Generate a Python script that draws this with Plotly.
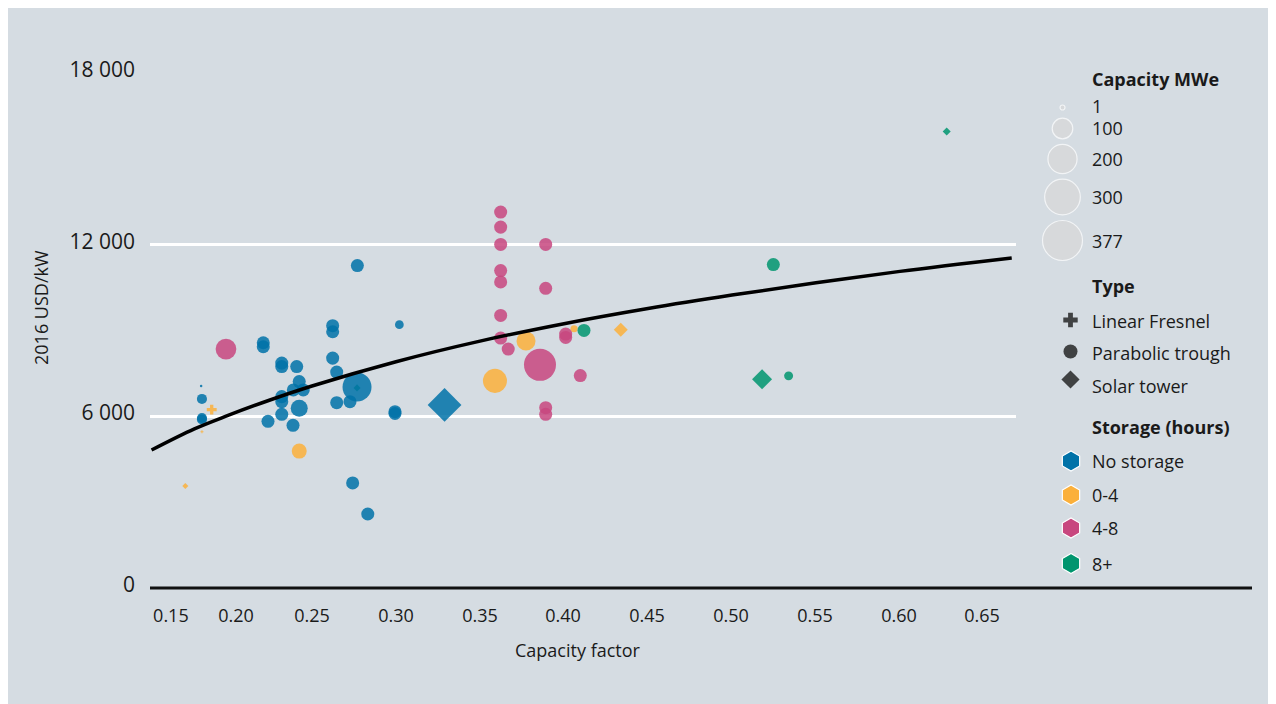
import math
import plotly.graph_objects as go

# ---------------- data ----------------
# types: F = Linear Fresnel, T = Parabolic trough, S = Solar tower
nostor_cf = [0.184, 0.1845, 0.1845, 0.1845, 0.221, 0.221, 0.232, 0.232, 0.2409, 0.2424, 0.2389, 0.2448,
             0.232, 0.232, 0.2424, 0.2238, 0.232, 0.2387, 0.2623, 0.2623, 0.2623, 0.2647, 0.2647, 0.2726,
             0.2768, 0.277, 0.2994, 0.2994, 0.302, 0.2742, 0.2832, 0.3289]
nostor_cost = [7053, 6597, 5930, 5880, 8562, 8422, 7850, 7730, 7730, 7204, 6913, 6913,
               6678, 6502, 6271, 5814, 6060, 5674, 9159, 8948, 8025, 7537, 6467, 6502,
               7018, 11264, 6151, 6088, 9194, 3660, 2572, 6386]
nostor_cap = [1, 24, 24, 24, 40, 40, 40, 40, 40, 40, 40, 40,
              40, 40, 68, 40, 40, 40, 40, 40, 40, 40, 40, 40,
              198, 40, 40, 40, 18, 40, 40, 159]
nostor_type = ["T"] * 31 + ["S"]

s04_cf = [0.1903, 0.1845, 0.1746, 0.2424, 0.3589, 0.3774, 0.406, 0.4338]
s04_cost = [6222, 5450, 3555, 4772, 7229, 8622, 9053, 9018]
s04_cap = [16, 1, 5, 53, 136, 85, 12, 27]
s04_type = ["F", "F", "S", "T", "T", "T", "T", "S"]

s48_cf = [0.1988, 0.3623, 0.3623, 0.3623, 0.3891, 0.3623, 0.3623, 0.3891, 0.3623, 0.3623, 0.3668,
          0.3857, 0.401, 0.401, 0.4097, 0.3891, 0.3891]
s48_cost = [8341, 13134, 12608, 12001, 12001, 11088, 10692, 10467, 9520, 8727, 8341,
            7790, 8867, 8748, 7415, 6292, 6060]
s48_cap = [101, 40, 40, 40, 40, 40, 40, 40, 40, 40, 40,
           241, 40, 40, 40, 40, 40]
s48_type = ["T"] * 17

s8_cf = [0.2768, 0.4119, 0.5246, 0.5179, 0.5337, 0.6278]
s8_cost = [6983, 8994, 11299, 7288, 7404, 15955]
s8_cap = [7, 40, 40, 56, 19, 9]
s8_type = ["S", "T", "T", "S", "T", "S"]

# trend line
trend_cf = [0.1545, 0.18, 0.20, 0.225, 0.25, 0.30, 0.35, 0.40, 0.45, 0.50, 0.55, 0.60, 0.6665]
trend_cost = [4810, 5550, 6020, 6560, 7050, 7900, 8620, 9230, 9760, 10230, 10660, 11060, 11530]

x_ticks = ["0.15", "0.20", "0.25", "0.30", "0.35", "0.40", "0.45", "0.50", "0.55", "0.60", "0.65"]
y_tick_vals = [0, 6000, 12000, 18000]
y_tick_text = ["0", "6 000", "12 000", "18 000"]

size_legend_caps = [1, 100, 200, 300, 377]
type_names = ["Linear Fresnel", "Parabolic trough", "Solar tower"]
storage_names = ["No storage", "0-4", "4-8", "8+"]

# ---------------- style ----------------
BG = "#D5DCE2"
W, H = 1260, 696
FONT = "Open Sans"
TXT = "#1a1a1a"
COLORS = {"No storage": "#0072A8", "0-4": "#FBB03B", "4-8": "#C8477F", "8+": "#00956E"}
SYM = {"F": "cross", "T": "circle", "S": "diamond"}


def sizes(caps, smin=2.5):
    return [max(smin, 2.06 * math.sqrt(c)) for c in caps]


fig = go.Figure()

series = [
    ("0-4", s04_cf, s04_cost, s04_cap, s04_type),
    ("4-8", s48_cf, s48_cost, s48_cap, s48_type),
    ("8+", s8_cf, s8_cost, s8_cap, s8_type),
    ("No storage", nostor_cf, nostor_cost, nostor_cap, nostor_type),
]
for name, cf, cost, cap, typ in series:
    fig.add_trace(go.Scatter(
        x=cf, y=cost, mode="markers", name=name,
        marker=dict(size=sizes(cap), symbol=[SYM[t] for t in typ], color=COLORS[name],
                    opacity=0.85, line=dict(width=0)),
        xaxis="x", yaxis="y", hoverinfo="x+y", showlegend=False))

fig.add_trace(go.Scatter(
    x=trend_cf, y=trend_cost, mode="lines", line=dict(color="black", width=3.5, shape="spline"),
    xaxis="x", yaxis="y", hoverinfo="skip", showlegend=False))

# ---------------- legend (pixel coordinate overlay x2/y2) ----------------
LX_SYM = 1054.5
LX_TXT = 1082
size_y = [99.5, 120.5, 151, 189, 232.5]
fig.add_trace(go.Scatter(
    x=[LX_SYM] * len(size_legend_caps), y=size_y, mode="markers",
    marker=dict(size=sizes(size_legend_caps, smin=5), color="#D9D9D9", line=dict(color="white", width=1.2)),
    xaxis="x2", yaxis="y2", hoverinfo="skip", showlegend=False))

type_y = [312, 343.5, 371.5]
fig.add_trace(go.Scatter(
    x=[1062.5] * 3, y=type_y, mode="markers",
    marker=dict(size=[12, 14, 14], symbol=["cross", "circle", "diamond"], color="black", line=dict(width=0)),
    xaxis="x2", yaxis="y2", hoverinfo="skip", showlegend=False))

stor_y = [453, 487, 520, 555.5]
fig.add_trace(go.Scatter(
    x=[1063] * 4, y=stor_y, mode="markers",
    marker=dict(size=20, symbol="hexagon", color=[COLORS[n] for n in storage_names],
                line=dict(color="white", width=1.2)),
    xaxis="x2", yaxis="y2", hoverinfo="skip", showlegend=False))

ann = []


def txt(x, y, s, size=18, bold=False, **kw):
    ann.append(dict(x=x, y=y, xref="x2", yref="y2", text=(f"<b>{s}</b>" if bold else s),
                    showarrow=False, xanchor=kw.get("xanchor", "left"), yanchor="middle",
                    font=dict(family=FONT, size=size, color=TXT), textangle=kw.get("textangle", 0)))


txt(LX_TXT, 71, "Capacity MWe", bold=True)
for c, yy in zip(size_legend_caps, [98, 120, 151, 189, 233]):
    txt(LX_TXT, yy, str(c))
txt(LX_TXT, 278, "Type", bold=True)
for n, yy in zip(type_names, [312.5, 344.5, 378]):
    txt(LX_TXT, yy, n)
txt(LX_TXT, 419, "Storage (hours)", bold=True)
for n, yy in zip(storage_names, stor_y):
    txt(LX_TXT, yy, n)

# axis titles
txt(570, 642, "Capacity factor", size=18, xanchor="center")
txt(33, 300, "2016 USD/kW", size=18, xanchor="center", textangle=-90)

# x tick positions as they appear in the reference
x_tick_pos = [0.166, 0.2048, 0.25, 0.30, 0.35, 0.3994, 0.4494, 0.4994, 0.5494, 0.5994, 0.6488]

PL, PR, PT, PB = 142, 1008, 65, 579.5
fig.update_layout(
    width=W, height=H, margin=dict(l=0, r=0, t=0, b=0, autoexpand=False),
    paper_bgcolor=BG, plot_bgcolor="rgba(0,0,0,0)", showlegend=False,
    font=dict(family=FONT, color=TXT),
    annotations=ann,
    xaxis=dict(domain=[PL / W, PR / W], range=[0.15357, 0.66905], anchor="y",
               tickvals=x_tick_pos, ticktext=x_ticks, showgrid=False, zeroline=False,
               showline=False, ticks="", tickfont=dict(size=18, family=FONT, color=TXT),
               ticklabelstandoff=15),
    yaxis=dict(domain=[(H - PB) / H, (H - PT) / H], range=[0, 18000], anchor="x",
               tickvals=y_tick_vals, ticktext=y_tick_text, gridcolor="white", gridwidth=2.5,
               zeroline=False, showline=False, ticks="",
               tickfont=dict(size=21, family=FONT, color=TXT), ticklabelstandoff=14,
               ticklabelshift=-3),
    xaxis2=dict(domain=[0, 1], range=[0, W], visible=False, anchor="y2", fixedrange=True),
    yaxis2=dict(domain=[0, 1], range=[H, 0], visible=False, anchor="x2", fixedrange=True),
    shapes=[dict(type="line", xref="x2", yref="y2", x0=PL, x1=1244, y0=PB + 0.5, y1=PB + 0.5,
                 line=dict(color="#111111", width=3))],
)

fig.write_html("out.html")
